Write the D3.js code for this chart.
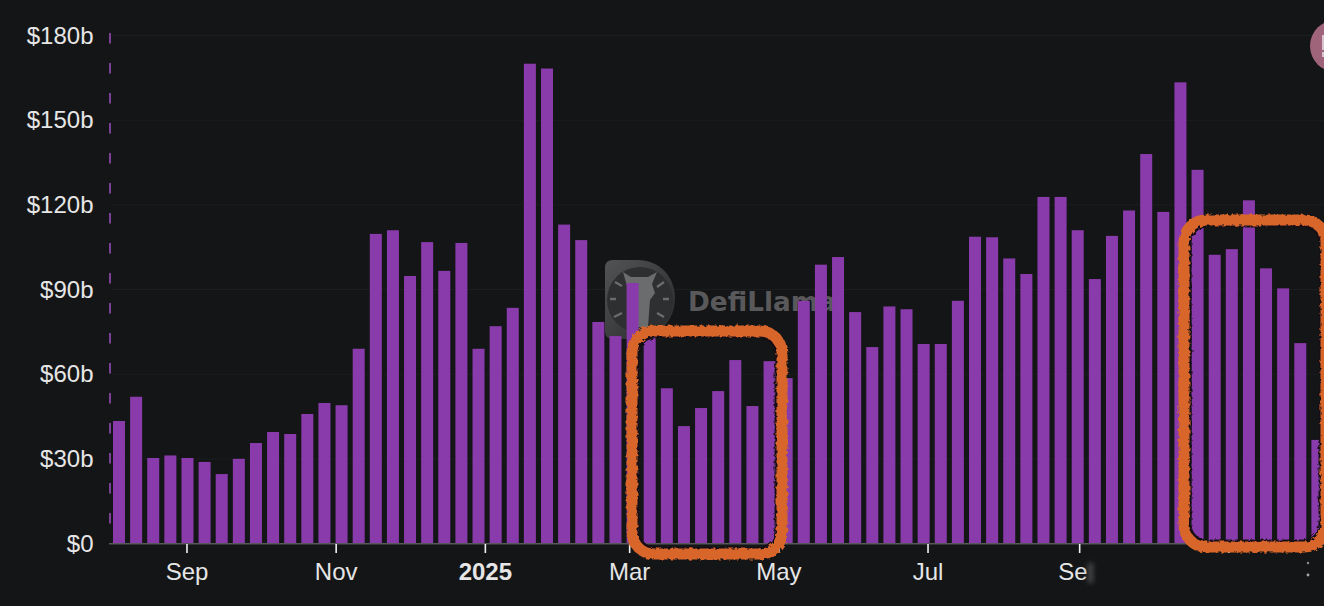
<!DOCTYPE html>
<html>
<head>
<meta charset="utf-8">
<script src="https://cdn.jsdelivr.net/npm/d3@7"></script>
<style>
  html, body { margin: 0; padding: 0; background: #141517; overflow: hidden; }
  text { font-family: "Liberation Sans", Arial, sans-serif; }
</style>
</head>
<body>
<svg id="chart" width="1324" height="606"></svg>
<script>
// Week starting dates, first and last bar
var firstWeek = "2024-08-04";
var lastWeek = "2025-12-07";

// Weekly volume in $b
var volumes = [
  43.4, 52, 30.3, 31.2, 30.3, 28.9, 24.6, 30, 35.6, 39.5,
  38.8, 45.9, 49.8, 49, 69, 109.7, 111, 94.8, 106.8, 96.6,
  106.5, 69, 77, 83.5, 170, 168.3, 113, 107.5, 78.5, 73.5,
  92.3, 73, 55, 41.6, 48, 54, 65, 48.7, 64.6, 58.6,
  86, 98.8, 101.5, 82, 69.6, 84, 83, 70.7, 70.7, 86,
  108.7, 108.5, 101, 95.5, 122.8, 122.8, 111, 93.7, 109, 118,
  138, 117.5, 163.4, 132.4, 102.3, 104.3, 121.6, 97.5, 90.4, 71,
  36.7
];

var yTicks = [0, 30, 60, 90, 120, 150, 180];
var xTickDates = ["2024-09-01", "2024-11-01", "2025-01-01", "2025-03-01", "2025-05-01", "2025-07-01", "2025-09-01", "2025-11-01"];
var xTickLabels = ["Sep", "Nov", "2025", "Mar", "May", "Jul", "Sep", ""];

var parseDay = d3.utcParse("%Y-%m-%d");
var weeks = d3.utcWeek.range(parseDay(firstWeek), d3.utcDay.offset(parseDay(lastWeek), 1));

var svg = d3.select("#chart");
var purple = "#8a3bab";

var x = d3.scaleUtc()
  .domain([parseDay(firstWeek), parseDay(lastWeek)])
  .range([119, 1317.4]);

var y = d3.scaleLinear()
  .domain([0, 180])
  .range([543.5, 35.5]);

// Filters for the hand drawn boxes and the smudge at the bottom
var defs = svg.append("defs");
var rough = defs.append("filter").attr("id", "rough")
  .attr("x", "-10%").attr("y", "-10%").attr("width", "120%").attr("height", "120%");
rough.append("feTurbulence")
  .attr("type", "fractalNoise").attr("baseFrequency", 0.28).attr("numOctaves", 2).attr("seed", 4);
rough.append("feDisplacementMap")
  .attr("in", "SourceGraphic").attr("scale", 4.5);
defs.append("filter").attr("id", "blur")
  .attr("x", "-100%").attr("y", "-100%").attr("width", "300%").attr("height", "300%")
  .append("feGaussianBlur").attr("stdDeviation", 2.5);
var logoFill = defs.append("linearGradient").attr("id", "logoFill")
  .attr("x1", 0).attr("y1", 0).attr("x2", 1).attr("y2", 1);
logoFill.append("stop").attr("offset", 0).attr("stop-color", "#525355");
logoFill.append("stop").attr("offset", 1).attr("stop-color", "#28292b");

// Gridlines
svg.append("g").selectAll("line")
  .data(yTicks.slice(1))
  .join("line")
  .attr("x1", 112).attr("x2", 1324)
  .attr("y1", d => y(d)).attr("y2", d => y(d))
  .attr("stroke", "#1c1d1f");

// Watermark sits under the bars
var logo = svg.append("g").attr("transform", "translate(605,260)");
logo.append("path")
  .attr("d", "M8,0 H32 C56,0 70,18 70,38 C70,60 54,79 30,79 H8 Q0,79 0,71 V8 Q0,0 8,0 Z")
  .attr("fill", "url(#logoFill)");
logo.append("circle")
  .attr("cx", 35).attr("cy", 40).attr("r", 33)
  .attr("fill", "#2e2f31");
logo.append("path")
  .attr("d", "M18,12 L26,17 H43 L52,12 L47,24 L50,33 L45,40 L43,67 H25 L25,42 L22,26 Z")
  .attr("fill", "#6b6c6d");
logo.selectAll("line.dial")
  .data([[10,22,17,26],[5,39,11,39],[9,57,17,53],[59,22,52,27],[64,39,58,39],[59,57,52,53]])
  .join("line")
  .attr("x1", d => d[0]).attr("y1", d => d[1]).attr("x2", d => d[2]).attr("y2", d => d[3])
  .attr("stroke", "#6a6b6c").attr("stroke-width", 2.5);

svg.append("text")
  .attr("x", 688).attr("y", 311)
  .style("font-family", "'DejaVu Sans'")
  .attr("font-size", 27).attr("font-weight", "bold")
  .attr("textLength", 148).attr("lengthAdjust", "spacingAndGlyphs")
  .attr("fill", "#59595b")
  .text("DefiLlama");

// Dashed line on the left of the plot
svg.append("line")
  .attr("x1", 110).attr("x2", 110)
  .attr("y1", 33).attr("y2", 543)
  .attr("stroke", "#7a4096").attr("stroke-width", 2)
  .attr("stroke-dasharray", "10.5 19.5");

// Bars
svg.append("g").selectAll("rect")
  .data(volumes)
  .join("rect")
  .attr("x", (d, i) => x(weeks[i]) - 6)
  .attr("width", 12)
  .attr("y", d => y(d))
  .attr("height", d => y(0) - y(d))
  .attr("fill", purple);

// X axis
svg.append("line")
  .attr("x1", 109).attr("x2", 1324)
  .attr("y1", 543.8).attr("y2", 543.8)
  .attr("stroke", "#58585a").attr("stroke-width", 1.5);

var xAxis = d3.axisBottom(x)
  .tickValues(xTickDates.map(parseDay))
  .tickSize(9)
  .tickPadding(10)
  .tickFormat((d, i) => xTickLabels[i]);

var xg = svg.append("g").attr("transform", "translate(-1,544)").call(xAxis);
xg.select(".domain").remove();
xg.selectAll(".tick line").attr("stroke", "#f2f2f2").attr("stroke-width", 1.6);
xg.selectAll(".tick text")
  .attr("font-size", 24)
  .attr("fill", "#e6e6e6")
  .attr("font-weight", (d, i) => xTickLabels[i] == "2025" ? "bold" : null);

// Y axis
var yAxis = d3.axisLeft(y)
  .tickValues(yTicks)
  .tickSize(0)
  .tickPadding(16.5)
  .tickFormat(d => d == 0 ? "$0" : "$" + d + "b");

var yg = svg.append("g").attr("transform", "translate(110,0)").call(yAxis);
yg.select(".domain").remove();
yg.selectAll(".tick text")
  .attr("font-size", 24)
  .attr("fill", "#e6e6e6");

// Smudged out part of the last date labels
svg.append("rect")
  .attr("x", 1087).attr("y", 558).attr("width", 24).attr("height", 32)
  .attr("fill", "#141517");
svg.append("rect")
  .attr("x", 1088).attr("y", 563).attr("width", 5).attr("height", 20)
  .attr("fill", "#4a4a4b")
  .attr("filter", "url(#blur)");
svg.append("circle").attr("cx", 1308).attr("cy", 563).attr("r", 1.2).attr("fill", "#8e8e8e");
svg.append("circle").attr("cx", 1308).attr("cy", 575).attr("r", 1.4).attr("fill", "#a8a8a8");

// Avatar cut off at the right edge
svg.append("circle").attr("cx", 1336).attr("cy", 46).attr("r", 26).attr("fill", "#a0647a");
svg.append("rect").attr("x", 1322).attr("y", 35).attr("width", 4).attr("height", 15).attr("fill", "#d8c4cc");
svg.append("rect").attr("x", 1322).attr("y", 52).attr("width", 3).attr("height", 5).attr("fill", "#d8c4cc");

// Hand drawn orange boxes, dark speckled edge first
var boxes = [
  { x: 632, y: 331, w: 150, h: 223 },
  { x: 1184, y: 220, w: 142, h: 327 }
];
svg.append("g").attr("filter", "url(#rough)").selectAll("rect")
  .data(boxes)
  .join("rect")
  .attr("x", d => d.x + 5).attr("y", d => d.y + 5)
  .attr("width", d => d.w - 10).attr("height", d => d.h - 10)
  .attr("rx", 18)
  .attr("fill", "none")
  .attr("stroke", "#141012").attr("stroke-width", 5);
svg.append("g").attr("filter", "url(#rough)").selectAll("rect")
  .data(boxes)
  .join("rect")
  .attr("x", d => d.x).attr("y", d => d.y)
  .attr("width", d => d.w).attr("height", d => d.h)
  .attr("rx", 22)
  .attr("fill", "none")
  .attr("stroke", "#d8662c").attr("stroke-width", 11);
</script>
</body>
</html>
